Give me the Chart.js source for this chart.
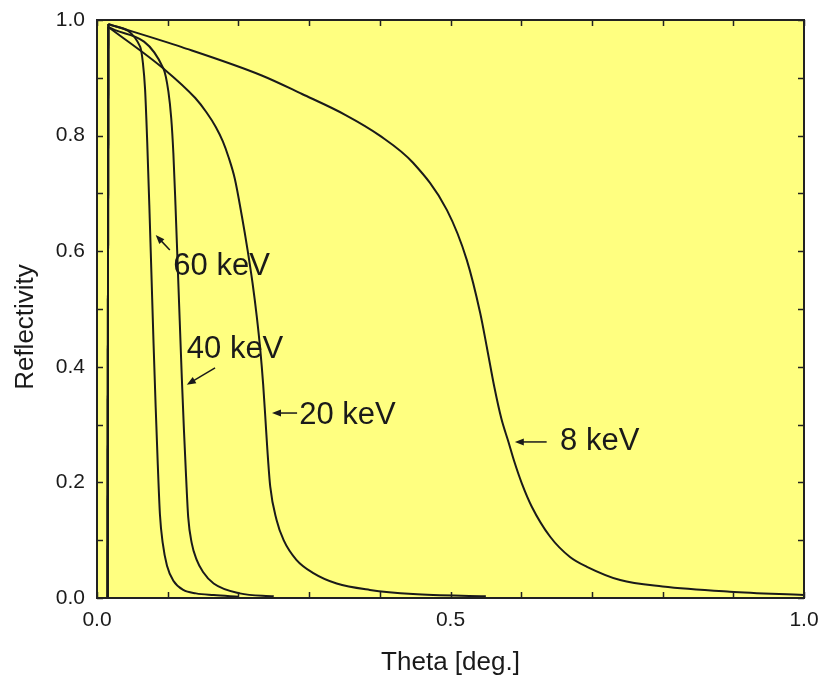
<!DOCTYPE html>
<html>
<head>
<meta charset="utf-8">
<title>Reflectivity vs Theta</title>
<script src="https://cdn.jsdelivr.net/npm/chart.js@4.4.0/dist/chart.umd.min.js"></script>
<style>
  html, body { margin: 0; padding: 0; background: #fff; }
  #wrap { width: 819px; height: 679px; }
</style>
</head>
<body>
<div id="wrap"><canvas id="reflChart" width="819" height="679"></canvas></div>
<script>
// Data (theta in degrees, reflectivity 0..1).
// First point of each series is the foot of the sharp rise at the start.
const theta8  = [0.015, 0.016, 0.12, 0.233, 0.29, 0.351, 0.40, 0.447, 0.495, 0.523, 0.542, 0.552, 0.562, 0.572, 0.582, 0.590, 0.601, 0.615, 0.641, 0.669, 0.693, 0.74, 0.80, 0.895, 1.00];
const refl8   = [0.0,   0.993, 0.953, 0.904, 0.872, 0.836, 0.80, 0.753, 0.671, 0.585, 0.493, 0.43, 0.365, 0.31, 0.27, 0.237, 0.198, 0.158, 0.106, 0.071, 0.054, 0.031, 0.020, 0.011, 0.005];

const theta20 = [0.015, 0.016, 0.094, 0.139, 0.155, 0.168, 0.178, 0.186, 0.195, 0.205, 0.213, 0.220, 0.226, 0.231, 0.235, 0.238, 0.241, 0.245, 0.254, 0.264, 0.282, 0.306, 0.339, 0.386, 0.447, 0.55];
const refl20  = [0.0,   0.988, 0.916, 0.865, 0.84, 0.815, 0.79, 0.763, 0.725, 0.66, 0.602, 0.545, 0.487, 0.429, 0.37, 0.314, 0.256, 0.193, 0.135, 0.10, 0.066, 0.043, 0.025, 0.014, 0.007, 0.003];

const theta40 = [0.015, 0.016, 0.094, 0.101, 0.105, 0.108, 0.111, 0.114, 0.117, 0.120, 0.123, 0.126, 0.129, 0.134, 0.141, 0.150, 0.165, 0.202, 0.25];
const refl40  = [0.0,   0.988, 0.916, 0.876, 0.83, 0.77, 0.68, 0.58, 0.48, 0.38, 0.29, 0.21, 0.14, 0.095, 0.066, 0.045, 0.025, 0.008, 0.003];

const theta60 = [0.015, 0.016, 0.061, 0.065, 0.068, 0.071, 0.074, 0.077, 0.080, 0.083, 0.086, 0.089, 0.093, 0.099, 0.108, 0.122, 0.14, 0.165, 0.20];
const refl60  = [0.0,   0.993, 0.954, 0.925, 0.88, 0.79, 0.68, 0.56, 0.44, 0.33, 0.23, 0.145, 0.095, 0.056, 0.03, 0.014, 0.008, 0.005, 0.002];

const seriesNames = ['8 keV', '20 keV', '40 keV', '60 keV'];

// annotation labels: text anchor and arrow (tail -> tip), in data units
const notes = [
  { text: '60 keV', at: [0.108, 0.573], from: [0.103, 0.602], to: [0.083, 0.628] },
  { text: '40 keV', at: [0.127, 0.430], from: [0.167, 0.398], to: [0.127, 0.369] },
  { text: '20 keV', at: [0.286, 0.315], from: [0.283, 0.320], to: [0.2475, 0.320] },
  { text: '8 keV',  at: [0.655, 0.271], from: [0.636, 0.270], to: [0.591, 0.270] }
];

const FONT = '"Liberation Sans", Arial, Helvetica, sans-serif';
const INK = '#1a1a1a';

function zip(xs, ys) {
  return xs.map((x, i) => ({ x: x, y: ys[i] }));
}

const pairs = [[theta8, refl8], [theta20, refl20], [theta40, refl40], [theta60, refl60]];

// smooth part of every curve
const datasets = pairs.map((pair, i) => ({
  label: seriesNames[i],
  data: zip(pair[0], pair[1]).slice(1),
  borderColor: INK,
  borderWidth: 2,
  pointRadius: 0,
  fill: false,
  cubicInterpolationMode: 'monotone'
}));
// the steep rise at the start of every curve, straight
pairs.forEach((pair, i) => {
  datasets.push({
    label: seriesNames[i] + ' edge',
    data: zip(pair[0], pair[1]).slice(0, 2),
    borderColor: INK,
    borderWidth: 2,
    pointRadius: 0,
    fill: false,
    tension: 0
  });
});

// yellow plot area, inward ticks on all sides, frame, titles, annotations
const framePlugin = {
  id: 'framePlugin',
  beforeDatasetsDraw(chart) {
    const { ctx, chartArea: a } = chart;
    ctx.save();
    ctx.fillStyle = '#ffff80';
    ctx.fillRect(a.left, a.top, a.right - a.left, a.bottom - a.top);
    ctx.restore();
  },
  afterDatasetsDraw(chart) {
    const { ctx, chartArea: a, scales: { x, y } } = chart;
    ctx.save();
    ctx.strokeStyle = '#222';
    ctx.lineWidth = 1.5;
    ctx.beginPath();
    x.ticks.forEach(t => {
      const px = Math.round(x.getPixelForValue(t.value)) + 0.5;
      ctx.moveTo(px, a.bottom); ctx.lineTo(px, a.bottom - 6);
      ctx.moveTo(px, a.top); ctx.lineTo(px, a.top + 6);
    });
    y.ticks.forEach(t => {
      const py = Math.round(y.getPixelForValue(t.value)) + 0.5;
      ctx.moveTo(a.left, py); ctx.lineTo(a.left + 6, py);
      ctx.moveTo(a.right, py); ctx.lineTo(a.right - 6, py);
    });
    ctx.stroke();
    ctx.lineWidth = 2;
    ctx.strokeRect(a.left, a.top, a.right - a.left, a.bottom - a.top);

    // annotations
    ctx.fillStyle = INK;
    ctx.strokeStyle = INK;
    ctx.font = '31px ' + FONT;
    ctx.textAlign = 'left';
    ctx.textBaseline = 'middle';
    notes.forEach(n => {
      ctx.fillText(n.text, x.getPixelForValue(n.at[0]), y.getPixelForValue(n.at[1]));
      const x1 = x.getPixelForValue(n.from[0]), y1 = y.getPixelForValue(n.from[1]);
      const x2 = x.getPixelForValue(n.to[0]), y2 = y.getPixelForValue(n.to[1]);
      const ang = Math.atan2(y2 - y1, x2 - x1);
      ctx.lineWidth = 1.5;
      ctx.beginPath();
      ctx.moveTo(x1, y1);
      ctx.lineTo(x2 - 6 * Math.cos(ang), y2 - 6 * Math.sin(ang));
      ctx.stroke();
      ctx.beginPath();
      ctx.moveTo(x2, y2);
      ctx.lineTo(x2 - 9 * Math.cos(ang) + 3.5 * Math.sin(ang), y2 - 9 * Math.sin(ang) - 3.5 * Math.cos(ang));
      ctx.lineTo(x2 - 9 * Math.cos(ang) - 3.5 * Math.sin(ang), y2 - 9 * Math.sin(ang) + 3.5 * Math.cos(ang));
      ctx.closePath();
      ctx.fill();
    });

    // axis titles
    ctx.font = '26px ' + FONT;
    ctx.textAlign = 'center';
    ctx.fillText('Theta [deg.]', (a.left + a.right) / 2, 663);
    ctx.translate(26, 327);
    ctx.rotate(-Math.PI / 2);
    ctx.fillText('Reflectivity', 0, 0);
    ctx.restore();
  }
};

const chart = new Chart(document.getElementById('reflChart'), {
  type: 'line',
  data: { datasets: datasets },
  options: {
    responsive: false,
    animation: false,
    layout: { padding: { top: 20, right: 15, left: 0, bottom: 0 } },
    plugins: { legend: { display: false }, tooltip: { enabled: false } },
    scales: {
      x: {
        type: 'linear',
        min: 0,
        max: 1,
        grid: { display: false, drawTicks: false },
        border: { display: false },
        ticks: {
          stepSize: 0.1,
          padding: 10,
          maxRotation: 0,
          autoSkip: false,
          color: INK,
          font: { family: FONT, size: 21 },
          callback: v => (Math.round(v * 10) % 5 === 0 ? v.toFixed(1) : '')
        },
        afterFit: s => {
          s.height = 81;
          s.paddingLeft = 0;
          s.paddingRight = 0;
        }
      },
      y: {
        min: 0,
        max: 1,
        grid: { display: false, drawTicks: false },
        border: { display: false },
        ticks: {
          stepSize: 0.1,
          padding: 12,
          autoSkip: false,
          color: INK,
          font: { family: FONT, size: 21 },
          callback: v => (Math.round(v * 10) % 2 === 0 ? v.toFixed(1) : '')
        },
        afterFit: s => {
          s.width = 97;
          s.paddingTop = 0;
          s.paddingBottom = 0;
        }
      }
    }
  },
  plugins: [framePlugin]
});
</script>
</body>
</html>
